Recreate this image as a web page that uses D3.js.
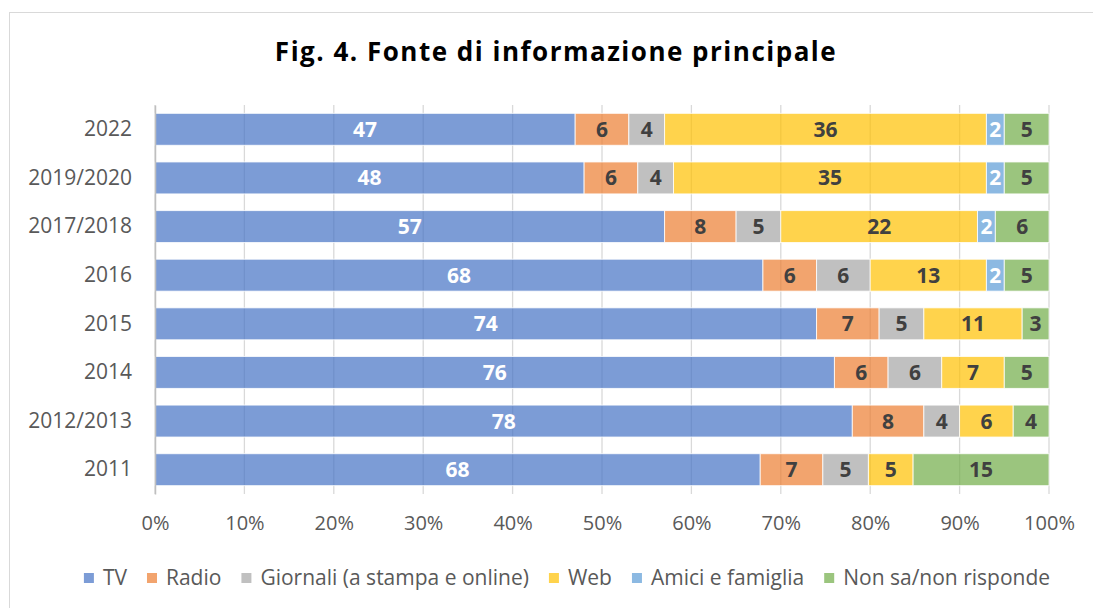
<!DOCTYPE html>
<html>
<head>
<meta charset="utf-8">
<script src="https://cdn.jsdelivr.net/npm/d3@7"></script>
<style>
  body { margin: 0; background: #fff; }
  svg { display: block; font-family: "Open Sans", sans-serif; }
</style>
</head>
<body>
<div id="chart-area"></div>
<script>
const WIDTH = 1093;
const HEIGHT = 608;

// data (percent)
const years = ["2022", "2019/2020", "2017/2018", "2016", "2015", "2014", "2012/2013", "2011"];
const seriesNames = ["TV", "Radio", "Giornali (a stampa e online)", "Web", "Amici e famiglia", "Non sa/non risponde"];
const tv = [47, 48, 57, 68, 74, 76, 78, 67.7];
const radio = [6, 6, 8, 6, 7, 6, 8, 7];
const giornali = [4, 4, 5, 6, 5, 6, 4, 5.1];
const web = [36, 35, 22, 13, 11, 7, 6, 5];
const amici = [2, 2, 2, 2, 0, 0, 0, 0];
const nonSa = [5, 5, 6, 5, 3, 5, 4, 15.2];
const xTicks = [0, 10, 20, 30, 40, 50, 60, 70, 80, 90, 100];

const colors = ["#4472C4", "#ED7D31", "#A5A5A5", "#FFC000", "#5B9BD5", "#70AD47"];
const labelColors = ["#fff", "#404040", "#404040", "#404040", "#fff", "#404040"];

const allSeries = [tv, radio, giornali, web, amici, nonSa];
const rows = years.map((y, i) => {
    const r = {year: y};
    seriesNames.forEach((k, j) => r[k] = allSeries[j][i]);
    return r;
});

const stacked = d3.stack().keys(seriesNames)(rows);

const margin = {left: 155, right: 44, top: 105, bottom: 114};

const x = d3.scaleLinear()
    .domain([0, 100])
    .range([margin.left, WIDTH - margin.right]);

const y = d3.scaleBand()
    .domain(years)
    .range([margin.top, HEIGHT - margin.bottom])
    .paddingInner(0.343)
    .paddingOuter(0.1715);

const svg = d3.select('#chart-area').append('svg')
    .attr("width", WIDTH)
    .attr("height", HEIGHT);

// chart frame
svg.append("rect")
    .attr("x", 9.5).attr("y", 12.5)
    .attr("width", WIDTH + 10).attr("height", HEIGHT + 10)
    .attr("fill", "none")
    .attr("stroke", "#d9d9d9");

svg.append("text")
    .attr("x", 556)
    .attr("y", 61)
    .attr("text-anchor", "middle")
    .attr("font-size", 26)
    .attr("font-weight", "bold")
    .attr("letter-spacing", 1.5)
    .attr("fill", "#000")
    .text("Fig. 4. Fonte di informazione principale");

// gridlines
svg.append("g")
    .selectAll("line")
    .data(xTicks)
    .join("line")
    .attr("x1", d => x(d)).attr("x2", d => x(d))
    .attr("y1", margin.top).attr("y2", HEIGHT - margin.bottom)
    .attr("stroke", "#d9d9d9")
    .attr("stroke-width", 1.3);

// bars
const layer = svg.append("g")
    .selectAll("g")
    .data(stacked)
    .join("g")
    .attr("fill", (d, i) => colors[i])
    .attr("fill-opacity", 0.7);

layer.selectAll("rect")
    .data(d => d.filter(s => s[1] - s[0] > 0))
    .join("rect")
    .attr("x", d => x(d[0]))
    .attr("width", d => x(d[1]) - x(d[0]))
    .attr("y", d => y(d.data.year))
    .attr("height", y.bandwidth())
    .attr("stroke", "#fff")
    .attr("stroke-opacity", 0.8)
    .attr("stroke-width", 1);

// value labels
const labels = svg.append("g")
    .selectAll("g")
    .data(stacked)
    .join("g")
    .attr("fill", (d, i) => labelColors[i]);

labels.selectAll("text")
    .data(d => d.filter(s => s[1] - s[0] > 0))
    .join("text")
    .attr("x", d => x((d[0] + d[1]) / 2))
    .attr("y", d => y(d.data.year) + y.bandwidth() / 2)
    .attr("dy", "0.36em")
    .attr("text-anchor", "middle")
    .attr("font-size", 21)
    .attr("font-weight", "bold")
    .text(d => Math.round(d[1] - d[0]));

// y axis
const yAxis = svg.append("g")
    .attr("transform", `translate(${margin.left},0)`)
    .call(d3.axisLeft(y).tickSize(0).tickPadding(23));
yAxis.select(".domain").attr("stroke", "#bfbfbf").attr("stroke-width", 1.5);
yAxis.selectAll("text")
    .attr("fill", "#595959")
    .attr("font-size", 21)
    .attr("font-family", "'Open Sans', sans-serif");

// x axis
const xAxis = svg.append("g")
    .attr("transform", `translate(0,${HEIGHT - margin.bottom})`)
    .call(d3.axisBottom(x).tickValues(xTicks).tickFormat(d => d + "%").tickSize(0).tickPadding(22));
xAxis.select(".domain").remove();
xAxis.selectAll("text")
    .attr("fill", "#595959")
    .attr("font-size", 20)
    .attr("font-family", "'Open Sans', sans-serif");

// legend
const legend = svg.append("g");
const items = legend.selectAll("g")
    .data(seriesNames)
    .join("g");
items.append("rect")
    .attr("width", 10).attr("height", 10)
    .attr("y", -5)
    .attr("fill", (d, i) => colors[i])
    .attr("fill-opacity", 0.7);
items.append("text")
    .attr("x", 19)
    .attr("dy", "0.35em")
    .attr("fill", "#595959")
    .attr("font-size", 21)
    .text(d => d);

let pos = 0;
items.each(function () {
    const w = this.querySelector("text").getComputedTextLength();
    d3.select(this).attr("data-x", pos);
    pos += 19 + w + 20;
});
const total = pos - 20;
const start = 567 - total / 2;
items.attr("transform", function () {
    return `translate(${start + +this.getAttribute("data-x")},578)`;
});
</script>
</body>
</html>
